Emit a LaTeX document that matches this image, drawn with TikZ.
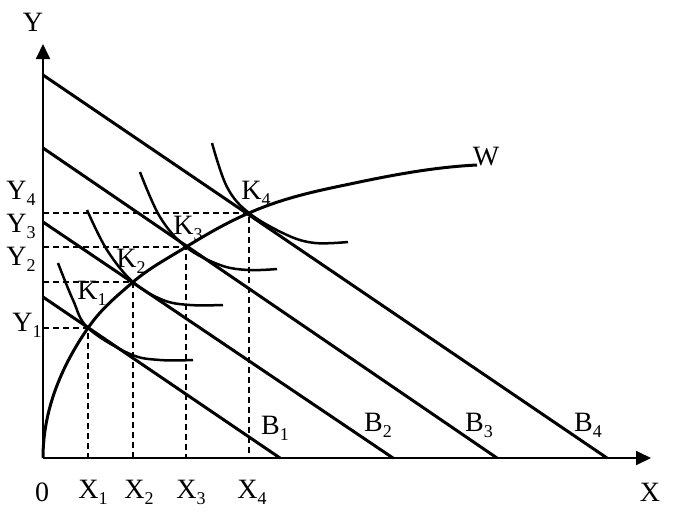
\documentclass[tikz,border=0pt]{standalone}
\usepackage{fontspec}
\setmainfont{Liberation Serif}
\usetikzlibrary{arrows.meta}
\newcommand\lbsub[2]{#1\raisebox{-0.22em}{\fontsize{18}{18}\selectfont #2}}
\tikzset{
  axis/.style={line width=1.8pt, -{Triangle[length=15pt,width=14pt]}},
  budget/.style={line width=3pt},
  curveW/.style={line width=3pt},
  icurve/.style={line width=2.5pt},
  guide/.style={line width=1.1pt, dash pattern=on 6pt off 4pt},
  lbl/.style={inner sep=0pt, font=\fontsize{28}{28}\selectfont},
}
\begin{document}
\begin{tikzpicture}[x=1pt,y=-1pt]
\useasboundingbox (0,0) rectangle (674,512);
% coordinates
\coordinate (O) at (43,458);
\coordinate (Ytop) at (43,44);
\coordinate (Xend) at (651,458);
\coordinate (K1) at (88,328);
\coordinate (K2) at (133,282);
\coordinate (K3) at (186,247);
\coordinate (K4) at (249,213);
\coordinate (Wa) at (350,184);
\coordinate (Wend) at (477,165);
\coordinate (b1y) at (43,297); \coordinate (b1x) at (280,458);
\coordinate (b2y) at (43,222); \coordinate (b2x) at (393,458);
\coordinate (b3y) at (43,148); \coordinate (b3x) at (497,458);
\coordinate (b4y) at (43,75);  \coordinate (b4x) at (607,458);
% guides
\draw[guide] (O |- K1) -- (K1) -- (K1 |- O);
\draw[guide] (O |- K2) -- (K2) -- (K2 |- O);
\draw[guide] (O |- K3) -- (K3) -- (K3 |- O);
\draw[guide] (O |- K4) -- (K4) -- (K4 |- O);
% axes
\draw[axis] (O) -- (Ytop);
\draw[axis] (O) -- (Xend);
% budget lines
\draw[budget] (b1y) -- (b1x);
\draw[budget] (b2y) -- (b2x);
\draw[budget] (b3y) -- (b3x);
\draw[budget] (b4y) -- (b4x);
% W curve
\draw[curveW] plot[variable=\t, domain=0:130, samples=50] ({43+\t*(\t/376)}, {458-\t})
  .. controls (101.8,308) and (117,296) .. (K2)
  .. controls (151,267) and (165,260) .. (K3)
  .. controls (207,234) and (228,222) .. (K4)
  .. controls (283,198) and (316,191) .. (Wa)
  .. controls (392,175) and (435,167) .. (Wend);
% indifference curves
\draw[icurve] plot[smooth, tension=0.6] coordinates {(58,263) (73,300) (K1) (130,354) (160,360) (193,360)};
\draw[icurve] plot[smooth, tension=0.6] coordinates {(87,210) (107,250) (K2) (163,300) (190,305) (223,305)};
\draw[icurve] plot[smooth, tension=0.6] coordinates {(140,172) (160,217) (K3) (220,265) (248,270) (277,269)};
\draw[icurve] plot[smooth, tension=0.6] coordinates {(212,143) (227,187) (K4) (287,235) (315,243) (348,242)};
% labels
\node[lbl] (lY) at (33,22) {Y};
\node[lbl] (lX) at (650,492) {X};
\node[lbl] (l0) at (42,492) {0};
\node[lbl] (lX1) at (93,492) {\lbsub{X}{1}};
\node[lbl] (lX2) at (139,492) {\lbsub{X}{2}};
\node[lbl] (lX3) at (191,492) {\lbsub{X}{3}};
\node[lbl] (lX4) at (252,492) {\lbsub{X}{4}};
\node[lbl] (lY4) at (21,193) {\lbsub{Y}{4}};
\node[lbl] (lY3) at (21,226) {\lbsub{Y}{3}};
\node[lbl] (lY2) at (21,259) {\lbsub{Y}{2}};
\node[lbl] (lY1) at (27,325) {\lbsub{Y}{1}};
\node[lbl] (lK1) at (92,293) {\lbsub{K}{1}};
\node[lbl] (lK2) at (131,261) {\lbsub{K}{2}};
\node[lbl] (lK3) at (188,228) {\lbsub{K}{3}};
\node[lbl] (lK4) at (256,193) {\lbsub{K}{4}};
\node[lbl] (lB1) at (275,428) {\lbsub{B}{1}};
\node[lbl] (lB2) at (378,425) {\lbsub{B}{2}};
\node[lbl] (lB3) at (479,425) {\lbsub{B}{3}};
\node[lbl] (lB4) at (588,425) {\lbsub{B}{4}};
\node[lbl] (lW) at (486,157) {W};
\end{tikzpicture}
\end{document}
